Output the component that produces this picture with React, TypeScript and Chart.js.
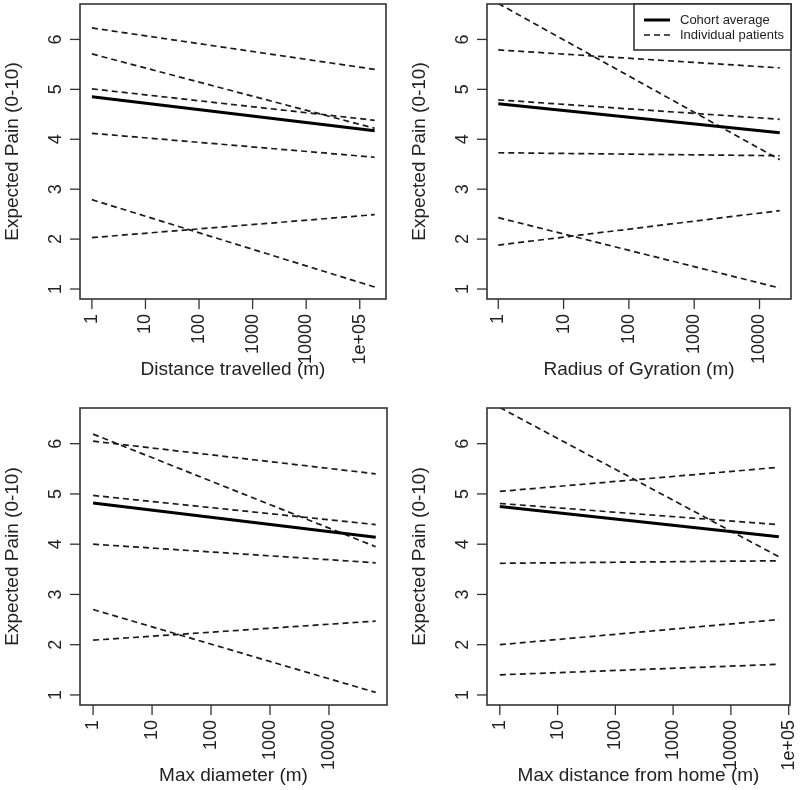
import React, { useEffect, useRef } from "react";
import { Chart, registerables } from "chart.js";

Chart.register(...registerables);

// ---------- data ----------
const panelTitles = [
  "Distance travelled (m)",
  "Radius of Gyration (m)",
  "Max diameter (m)",
  "Max distance from home (m)",
];
const yAxisTitle = "Expected Pain (0-10)";
const legendLabels = ["Cohort average", "Individual patients"];

const xStart = 1;
const xEnds = [190000, 20400, 62000, 67600];

const cohortStart = [4.85, 4.71, 4.82, 4.75];
const cohortEnd = [4.17, 4.13, 4.14, 4.15];

const distanceStart = [6.23, 5.71, 5.01, 4.12, 2.79, 2.03];
const distanceEnd = [5.4, 4.22, 4.38, 3.64, 1.04, 2.49];
const gyrationStart = [6.72, 5.79, 4.79, 3.73, 2.43, 1.88];
const gyrationEnd = [3.59, 5.43, 4.4, 3.67, 1.02, 2.57];
const diameterStart = [6.19, 6.05, 4.97, 4.0, 2.7, 2.09];
const diameterEnd = [3.95, 5.4, 4.39, 3.63, 1.05, 2.47];
const homeStart = [6.72, 5.05, 4.81, 3.62, 2.0, 1.4];
const homeEnd = [3.75, 5.53, 4.39, 3.67, 2.5, 1.61];

const patientStarts = [distanceStart, gyrationStart, diameterStart, homeStart];
const patientEnds = [distanceEnd, gyrationEnd, diameterEnd, homeEnd];

const xTickValues = [1, 10, 100, 1000, 10000, 100000];
const xTickLabels = ["1", "10", "100", "1000", "10000", "1e+05"];
const yTickValues = [1, 2, 3, 4, 5, 6];
const yMin = 0.8;
const yMax = 6.71;

// ---------- layout / style ----------
const FONT = "'Liberation Sans', Arial, Helvetica, sans-serif";
const TEXT = "#222";
const panelPlaces = [
  { left: 0, top: 0, pad: { left: 80, top: 4, right: 14, bottom: 96 } },
  { left: 400, top: 0, pad: { left: 87, top: 4, right: 9, bottom: 96 } },
  { left: 0, top: 395, pad: { left: 80, top: 13, right: 13, bottom: 85 } },
  { left: 400, top: 395, pad: { left: 87, top: 13, right: 10, bottom: 85 } },
];

const rAxesPlugin = {
  id: "rAxes",
  afterDraw(chart: any, _args: any, opts: any) {
    const { ctx, chartArea: a, scales } = chart;
    const xs = scales.x;
    const ys = scales.y;
    ctx.save();
    // box
    ctx.strokeStyle = "#333";
    ctx.lineWidth = 1.6;
    ctx.setLineDash([]);
    ctx.strokeRect(a.left, a.top, a.right - a.left, a.bottom - a.top);

    ctx.fillStyle = TEXT;
    ctx.font = `18px ${FONT}`;
    ctx.lineWidth = 1.3;
    // y axis
    for (const v of yTickValues) {
      const py = ys.getPixelForValue(v);
      ctx.beginPath();
      ctx.moveTo(a.left - 10, py);
      ctx.lineTo(a.left, py);
      ctx.stroke();
      ctx.save();
      ctx.translate(a.left - 24, py);
      ctx.rotate(-Math.PI / 2);
      ctx.textAlign = "center";
      ctx.textBaseline = "middle";
      ctx.fillText(String(v), 0, 0);
      ctx.restore();
    }
    // x axis
    xTickValues.forEach((v, i) => {
      if (v < xs.min * 0.999 || v > xs.max * 1.001) return;
      const px = xs.getPixelForValue(v);
      ctx.beginPath();
      ctx.moveTo(px, a.bottom);
      ctx.lineTo(px, a.bottom + 10);
      ctx.stroke();
      ctx.save();
      ctx.translate(px, a.bottom + 15);
      ctx.rotate(-Math.PI / 2);
      ctx.textAlign = "right";
      ctx.textBaseline = "middle";
      ctx.fillText(xTickLabels[i], 0, 0);
      ctx.restore();
    });
    // titles
    ctx.font = `19px ${FONT}`;
    ctx.textAlign = "center";
    ctx.textBaseline = "middle";
    ctx.fillText(opts.xTitle, (a.left + a.right) / 2, a.bottom + 71);
    ctx.save();
    ctx.translate(a.left - 67, (a.top + a.bottom) / 2);
    ctx.rotate(-Math.PI / 2);
    ctx.fillText(yAxisTitle, 0, 0);
    ctx.restore();

    // legend
    if (opts.legend) {
      const lx = a.right - 157;
      const ty = a.top;
      ctx.fillStyle = "#fff";
      ctx.fillRect(lx, ty, a.right - lx, 46);
      ctx.strokeStyle = "#333";
      ctx.lineWidth = 1.6;
      ctx.strokeRect(lx, ty, a.right - lx, 46);
      ctx.strokeStyle = "#000";
      ctx.lineWidth = 3;
      ctx.beginPath();
      ctx.moveTo(lx + 10, ty + 16);
      ctx.lineTo(lx + 36, ty + 16);
      ctx.stroke();
      ctx.strokeStyle = "#1a1a1a";
      ctx.lineWidth = 1.7;
      ctx.setLineDash([6, 4]);
      ctx.beginPath();
      ctx.moveTo(lx + 10, ty + 31);
      ctx.lineTo(lx + 36, ty + 31);
      ctx.stroke();
      ctx.setLineDash([]);
      ctx.fillStyle = TEXT;
      ctx.font = `13px ${FONT}`;
      ctx.textAlign = "left";
      ctx.textBaseline = "middle";
      ctx.fillText(legendLabels[0], lx + 46, ty + 16);
      ctx.fillText(legendLabels[1], lx + 46, ty + 31);
    }
    ctx.restore();
  },
};

function Panel({ idx }: { idx: number }) {
  const ref = useRef<HTMLCanvasElement>(null);
  useEffect(() => {
    if (!ref.current) return;
    const xEnd = xEnds[idx];
    const L = Math.log10(xEnd / xStart);
    const datasets: any[] = [
      {
        label: legendLabels[0],
        data: [
          { x: xStart, y: cohortStart[idx] },
          { x: xEnd, y: cohortEnd[idx] },
        ],
        borderColor: "#000",
        borderWidth: 3,
        pointRadius: 0,
        tension: 0,
      },
    ];
    patientStarts[idx].forEach((s, k) => {
      datasets.push({
        label: legendLabels[1],
        data: [
          { x: xStart, y: s },
          { x: xEnd, y: patientEnds[idx][k] },
        ],
        borderColor: "#1a1a1a",
        borderWidth: 1.7,
        borderDash: [6, 4],
        pointRadius: 0,
        tension: 0,
      });
    });
    const chart = new Chart(ref.current, {
      type: "line",
      data: { datasets },
      options: {
        animation: false,
        responsive: false,
        devicePixelRatio: 1,
        layout: { padding: panelPlaces[idx].pad },
        scales: {
          x: {
            type: "logarithmic",
            display: false,
            min: xStart * Math.pow(10, -0.04 * L),
            max: xStart * Math.pow(10, 1.04 * L),
          },
          y: {
            type: "linear",
            display: false,
            min: yMin,
            max: yMax,
          },
        },
        plugins: {
          legend: { display: false },
          tooltip: { enabled: false },
          rAxes: { xTitle: panelTitles[idx], legend: idx === 1 },
        } as any,
      },
      plugins: [rAxesPlugin],
    } as any);
    return () => chart.destroy();
  }, [idx]);
  const p = panelPlaces[idx];
  return (
    <canvas
      ref={ref}
      width={400}
      height={395}
      style={{ position: "absolute", left: p.left, top: p.top, width: 400, height: 395 }}
    />
  );
}

export default function App() {
  return (
    <div style={{ position: "absolute", left: 0, top: 0, width: 800, height: 790, background: "#fff" }}>
      {[0, 1, 2, 3].map((i) => (
        <Panel key={i} idx={i} />
      ))}
    </div>
  );
}
